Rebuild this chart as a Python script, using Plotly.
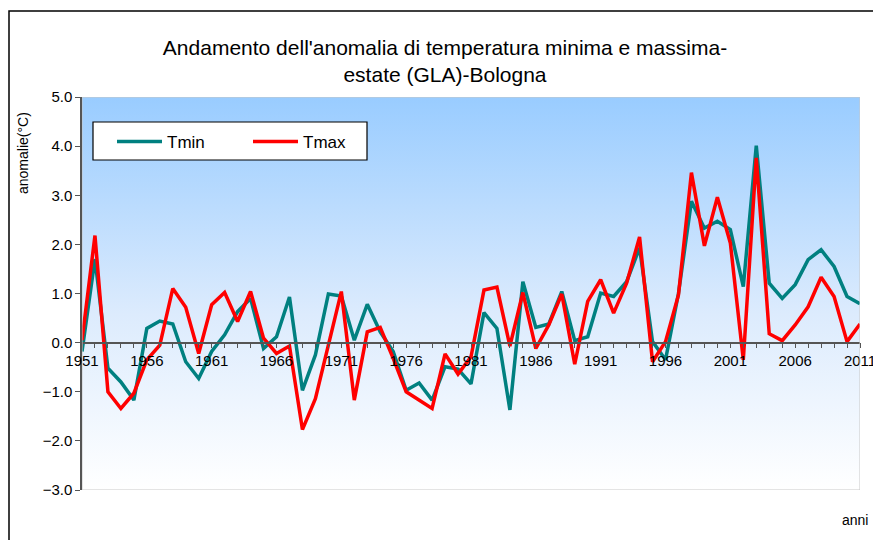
import plotly.graph_objects as go

anni = list(range(1951, 2012))

tmin = [-0.18, 1.7, -0.52, -0.8, -1.17, 0.29, 0.44, 0.38, -0.39, -0.73,
        -0.18, 0.16, 0.63, 0.9, -0.12, 0.12, 0.93, -0.97, -0.25, 0.99,
        0.95, 0.05, 0.78, 0.22, -0.18, -0.97, -0.82, -1.17, -0.49, -0.54,
        -0.84, 0.61, 0.29, -1.37, 1.24, 0.31, 0.38, 1.04, 0.04, 0.12,
        1.01, 0.94, 1.24, 1.93, 0.02, -0.35, 1.0, 2.88, 2.33, 2.47,
        2.3, 1.14, 4.01, 1.21, 0.9, 1.18, 1.69, 1.89, 1.55, 0.94,
        0.79]

tmax = [0.05, 2.18, -1.0, -1.34, -1.03, -0.35, -0.05, 1.1, 0.72, -0.22,
        0.77, 1.02, 0.43, 1.04, 0.09, -0.22, -0.07, -1.77, -1.14, -0.05,
        1.04, -1.17, 0.22, 0.31, -0.32, -1.0, -1.17, -1.34, -0.23, -0.64,
        -0.29, 1.07, 1.13, -0.07, 1.02, -0.12, 0.36, 0.99, -0.44, 0.84,
        1.28, 0.6, 1.21, 2.15, -0.39, 0.02, 0.97, 3.46, 1.97, 2.96,
        2.03, -0.35, 3.76, 0.18, 0.04, 0.36, 0.73, 1.33, 0.94, 0.02,
        0.38]

y_min, y_max = -3, 5

W, H = 873, 540
# area del grafico, in pixel
X0, X1, Y0, Y1 = 82, 860, 97, 490
pw, ph = X1 - X0, Y1 - Y0


def px(x):
    return (x - X0) / pw


def py(y):
    return (Y1 - y) / ph


fig = go.Figure()

# sfondo sfumato dell'area del grafico
fig.add_trace(go.Scatter(
    x=[anni[0], anni[-1], anni[-1], anni[0], anni[0]],
    y=[y_min, y_min, y_max, y_max, y_min],
    mode="lines", line=dict(width=0), fill="toself",
    fillgradient=dict(type="vertical",
                      colorscale=[[0, "#FFFFFF"], [0.45, "#DCEBFD"], [1, "#99CCFF"]]),
    hoverinfo="skip", showlegend=False,
))

fig.add_trace(go.Scatter(x=anni, y=tmin, name="Tmin", mode="lines",
                         line=dict(color="#008080", width=3.5)))
fig.add_trace(go.Scatter(x=anni, y=tmax, name="Tmax", mode="lines",
                         line=dict(color="#FF0000", width=3.5)))

fig.update_layout(
    width=W, height=H,
    margin=dict(l=X0, r=W - X1, t=Y0, b=H - Y1, autoexpand=False),
    paper_bgcolor="white",
    plot_bgcolor="rgba(0,0,0,0)",
    font=dict(family="Liberation Sans, Arial, sans-serif", color="black"),
    title=dict(
        text="Andamento dell'anomalia di temperatura minima e massima-<br>estate (GLA)-Bologna",
        x=445 / W, xanchor="center", y=1 - 55 / H, yanchor="middle",
        font=dict(size=21),
    ),
    legend=dict(
        orientation="h", x=px(112), y=py(124), xanchor="left", yanchor="top",
        bgcolor="rgba(0,0,0,0)", borderwidth=0,
        font=dict(size=17), entrywidth=76, itemwidth=45,
    ),
    showlegend=True,
)

fig.update_xaxes(
    range=[anni[0], anni[-1]],
    anchor="free", position=(0 - y_min) / (y_max - y_min),
    automargin=False, ticklabeloverflow="allow",
    showgrid=False, zeroline=False,
    showline=True, linecolor="#555555", linewidth=1.5,
    tickmode="linear", tick0=1951, dtick=5,
    ticks="outside", ticklen=5, tickcolor="#555555",
    minor=dict(dtick=1, ticks="outside", ticklen=5, tickcolor="#555555"),
    tickfont=dict(size=15),
)

fig.update_yaxes(
    range=[y_min, y_max],
    automargin=False,
    showgrid=False, zeroline=False,
    showline=True, linecolor="#555555", linewidth=1.5,
    tickmode="linear", tick0=-3, dtick=1, tickformat=".1f",
    ticks="outside", ticklen=5, tickcolor="#555555",
    tickfont=dict(size=15),
)

# bordo chiaro dell'area del grafico
fig.add_shape(type="rect", xref="x", yref="y",
              x0=anni[0], x1=anni[-1], y0=y_min, y1=y_max,
              line=dict(color="#C8C8C8", width=1), layer="above")

# riquadro della legenda
fig.add_shape(type="rect", xref="paper", yref="paper",
              x0=px(93), x1=px(367), y0=py(160), y1=py(122),
              fillcolor="white", line=dict(color="black", width=1.2),
              layer="above")

# cornice esterna del grafico
fig.add_shape(type="rect", xref="paper", yref="paper",
              x0=px(9), x1=px(900), y0=py(600), y1=py(11),
              line=dict(color="black", width=1.5), layer="above")

fig.add_annotation(text="anomalie(°C)", xref="paper", yref="paper",
                   x=px(23), y=py(153), textangle=-90,
                   xanchor="center", yanchor="middle",
                   showarrow=False, font=dict(size=14))

fig.add_annotation(text="anni", xref="paper", yref="paper",
                   x=px(870), y=py(520), xanchor="right", yanchor="middle",
                   showarrow=False, font=dict(size=14))

# niente margine della pagina: la figura occupa tutta la finestra
fig.write_html("out.html",
               config={"displayModeBar": False},
               post_script="document.body.style.margin='0';"
                           "document.body.style.overflow='hidden';")
